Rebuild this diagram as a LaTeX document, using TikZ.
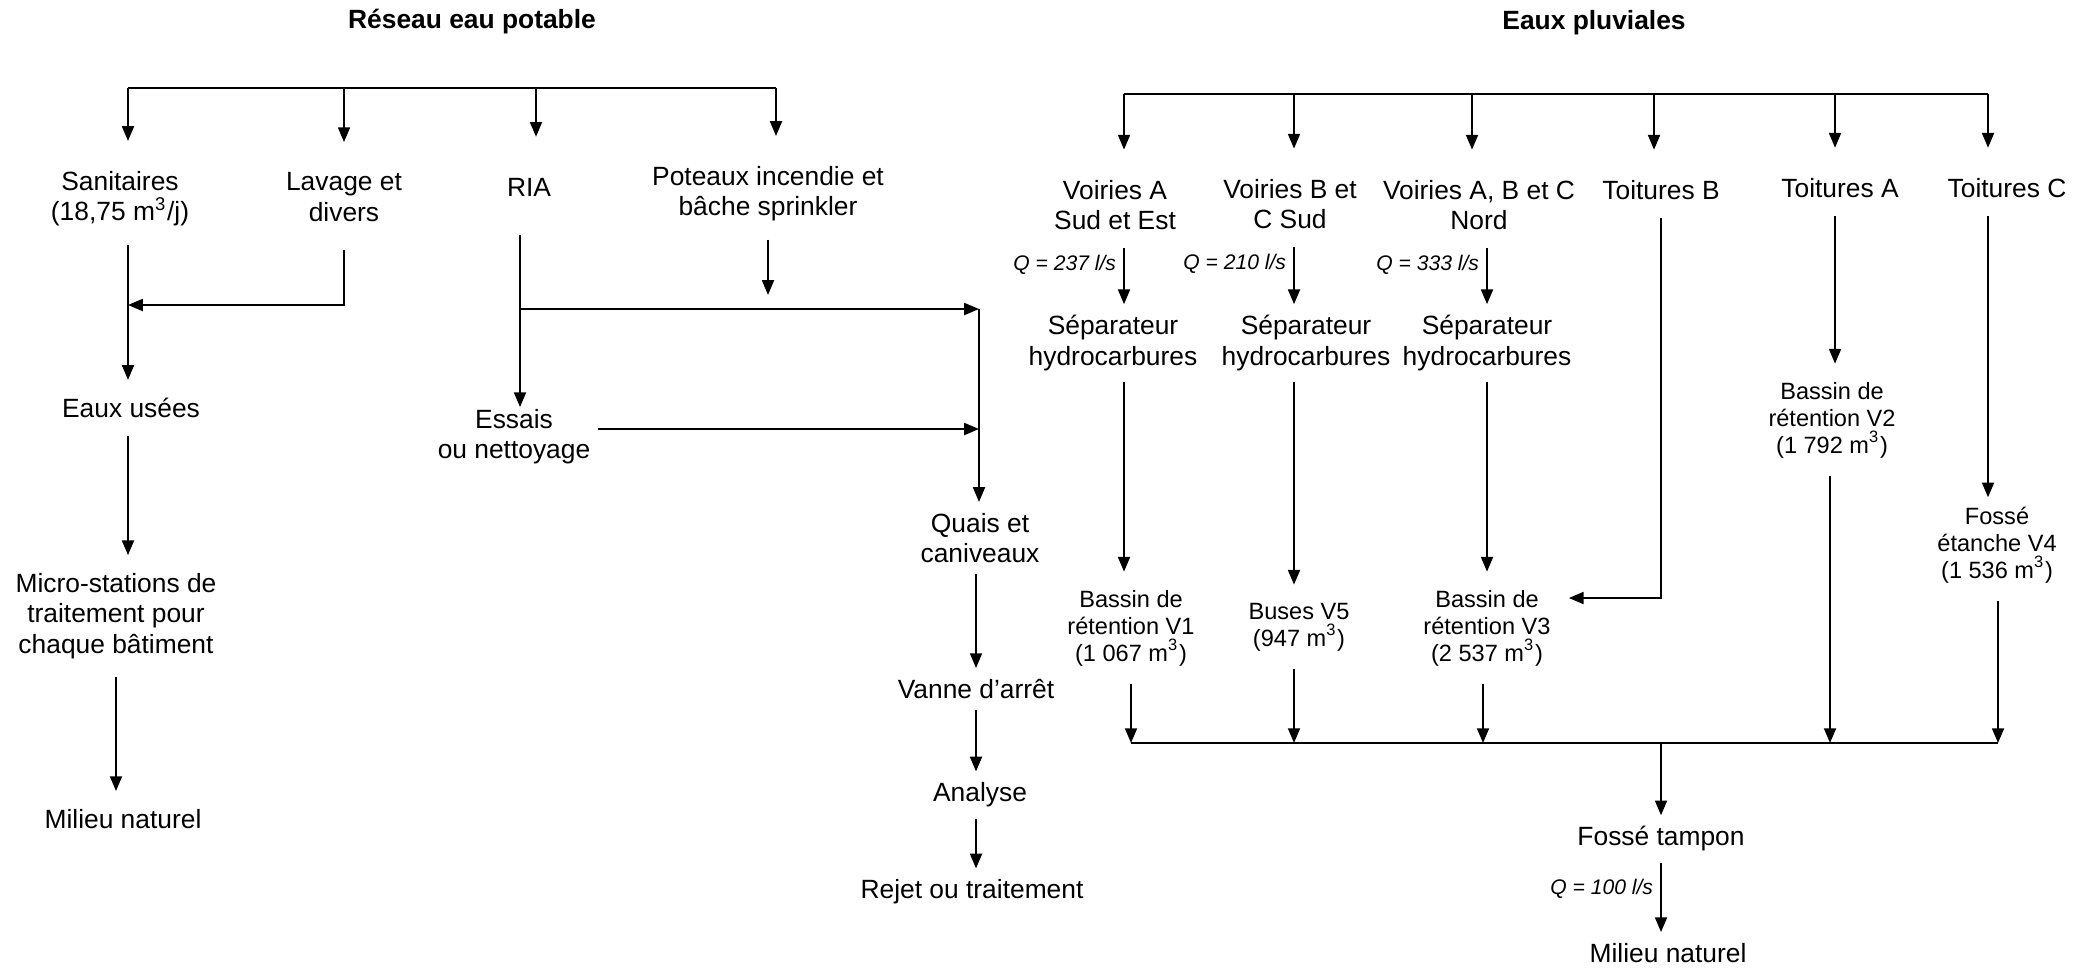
\documentclass[tikz,border=0pt]{standalone}
\usepackage{fontspec}
\setmainfont{Liberation Sans}
\definecolor{flowBlack}{HTML}{000000}
\usetikzlibrary{arrows.meta, positioning}
\tikzset{
    flow node/.style={align=center, inner sep=5pt, text=flowBlack, font=\fontsize{7.5}{8.6}\selectfont},
    tight node/.style={flow node, inner sep=3pt},
    small node/.style={align=center, inner sep=5pt, text=flowBlack, font=\fontsize{6.7}{7.7}\selectfont},
    title node/.style={inner sep=2pt, text=flowBlack, font=\fontsize{7.5}{8.6}\selectfont\bfseries},
    q label/.style={inner sep=2pt, text=flowBlack, font=\fontsize{6}{7}\selectfont\itshape},
    line style/.style={line width=0.55pt, flowBlack},
    arrow style/.style={-{Triangle[length=4.2pt, width=3.4pt]}, line width=0.55pt, flowBlack},
    branch arrow/.style={arrow style, shorten >=3.5pt},
}

\begin{document}
\begin{tikzpicture}[x=0.01cm, y=-0.01cm]
    \useasboundingbox (0,0) rectangle (2089,969);

    % Titles
    \node[title node] (titleDrink) at (472,22) {Réseau eau potable};
    \node[title node] (titleRain) at (1594,23) {Eaux pluviales};

    % Drinking water nodes
    \node[flow node] (sanitaires) at (120,199) {Sanitaires\\(18,75 m\textsuperscript{3}/j)};
    \node[flow node] (lavage) at (344,197) {Lavage et\\divers};
    \node[flow node] (ria) at (529,187) {RIA};
    \node[flow node] (poteaux) at (768,194) {Poteaux incendie et\\bâche sprinkler};
    \node[flow node] (usees) at (131,408) {Eaux usées};
    \node[flow node] (essais) at (514,437) {Essais\\ou nettoyage};
    \node[flow node] (micro) at (116,616) {Micro-stations de\\traitement pour\\chaque bâtiment};
    \node[flow node] (milieuDrink) at (123,819) {Milieu naturel};
    \node[tight node] (quais) at (980,538) {Quais et\\caniveaux};
    \node[tight node] (vanne) at (976,689) {Vanne d’arrêt};
    \node[tight node] (analyse) at (980,795) {Analyse};
    \node[tight node] (rejet) at (972,892) {Rejet ou traitement};

    % Rain water nodes
    \node[flow node] (voirA) at (1115,205) {Voiries A\\Sud et Est};
    \node[flow node] (voirB) at (1290,204) {Voiries B et\\C Sud};
    \node[flow node] (voirC) at (1479,205) {Voiries A, B et C\\Nord};
    \node[flow node] (toitB) at (1661,190) {Toitures B};
    \node[flow node] (toitA) at (1840,188) {Toitures A};
    \node[flow node] (toitC) at (2007,188) {Toitures C};
    \node[tight node] (sepA) at (1113,343) {Séparateur\\hydrocarbures};
    \node[tight node] (sepB) at (1306,343) {Séparateur\\hydrocarbures};
    \node[tight node] (sepC) at (1487,343) {Séparateur\\hydrocarbures};
    \node[small node] (bassinV1) at (1131,628) {Bassin de\\rétention V1\\(1~067 m\textsuperscript{3})};
    \node[small node] (busesV5) at (1299,627) {Buses V5\\(947 m\textsuperscript{3})};
    \node[small node] (bassinV3) at (1487,628) {Bassin de\\rétention V3\\(2~537 m\textsuperscript{3})};
    \node[small node] (bassinV2) at (1832,420) {Bassin de\\rétention V2\\(1~792 m\textsuperscript{3})};
    \node[small node] (fosseV4) at (1997,545) {Fossé\\étanche V4\\(1~536 m\textsuperscript{3})};
    \node[tight node] (fosseTampon) at (1661,839) {Fossé tampon};
    \node[tight node] (milieuRain) at (1668,953) {Milieu naturel};

    % Junction points
    \coordinate (barL1) at (128,88);
    \coordinate (barL2) at (344,88);
    \coordinate (barL3) at (536,88);
    \coordinate (barL4) at (776,88);
    \coordinate (joinSani) at (128,305);
    \coordinate (joinRia) at (520,309);
    \coordinate (joinQuais) at (979,309);
    \coordinate (joinEssais) at (979,429);
    \coordinate (barRA) at (1124,94);
    \coordinate (barRB) at (1294,94);
    \coordinate (barRC) at (1472,94);
    \coordinate (barRD) at (1654,94);
    \coordinate (barRE) at (1835,94);
    \coordinate (barRF) at (1988,94);
    \coordinate (sumA) at (1131,743);
    \coordinate (sumB) at (1294,743);
    \coordinate (sumC) at (1483,743);
    \coordinate (sumE) at (1830,743);
    \coordinate (sumF) at (1998,743);
    \coordinate (sumMid) at (1661,743);
    \coordinate (joinToitB) at (1661,598);

    % Drinking water arrows
    \draw[line style] (barL1) -- (barL4);
    \draw[branch arrow] (barL1) -- (barL1 |- sanitaires.north);
    \draw[branch arrow] (barL2) -- (barL2 |- lavage.north);
    \draw[branch arrow, shorten >=6.5pt] (barL3) -- (barL3 |- ria.north);
    \draw[branch arrow] (barL4) -- (barL4 |- poteaux.north);
    \draw[arrow style, shorten <=3pt] (lavage.south) |- (joinSani);
    \draw[arrow style] (sanitaires.south -| joinSani) -- (usees.north -| joinSani);
    \draw[arrow style] (usees.south -| joinSani) -- (micro.north -| joinSani);
    \draw[arrow style] (micro.south) -- (micro.south |- milieuDrink.north);
    \draw[arrow style, shorten <=6pt, shorten >=-4.5pt] (ria.south -| joinRia) -- (essais.north -| joinRia);
    \draw[arrow style, shorten >=4pt] (poteaux.south) -- (poteaux.south |- joinRia);
    \draw[arrow style] (joinRia) -- (joinQuais);
    \draw[arrow style, shorten <=-3pt] (essais.east |- joinEssais) -- (joinEssais);
    \draw[arrow style] (joinQuais) -- (quais.north -| joinQuais);
    \draw[arrow style] (quais.south -| vanne) -- (vanne.north);
    \draw[arrow style] (vanne.south) -- (analyse.north -| vanne.south);
    \draw[arrow style] (analyse.south -| vanne) -- (rejet.north -| vanne);

    % Rain water arrows
    \draw[line style] (barRA) -- (barRF);
    \draw[branch arrow] (barRA) -- (barRA |- voirA.north);
    \draw[branch arrow] (barRB) -- (barRB |- voirB.north);
    \draw[branch arrow] (barRC) -- (barRC |- voirC.north);
    \draw[branch arrow] (barRD) -- (barRD |- toitB.north);
    \draw[branch arrow] (barRE) -- (barRE |- toitA.north);
    \draw[branch arrow] (barRF) -- (barRF |- toitC.north);
    \draw[arrow style] (voirA.south -| barRA) -- node[q label, left, pos=0.3] (qA) {Q = 237 l/s} (sepA.north -| barRA);
    \draw[arrow style] (voirB.south -| barRB) -- node[q label, left, pos=0.3] (qB) {Q = 210 l/s} (sepB.north -| barRB);
    \draw[arrow style] (voirC.south -| sepC) -- node[q label, left, pos=0.3] (qC) {Q = 333 l/s} (sepC.north);
    \draw[arrow style] (sepA.south -| barRA) -- (bassinV1.north -| barRA);
    \draw[arrow style] (sepB.south -| barRB) -- (busesV5.north -| barRB);
    \draw[arrow style] (sepC.south) -- (bassinV3.north -| sepC.south);
    \draw[arrow style] (toitB.south) -- (joinToitB) -- (bassinV3.east |- joinToitB);
    \draw[arrow style] (toitA.south -| barRE) -- (bassinV2.north -| barRE);
    \draw[arrow style, shorten >=-2.5pt] (toitC.south -| barRF) -- (fosseV4.north -| barRF);
    \draw[arrow style] (bassinV1.south -| sumA) -- (sumA);
    \draw[arrow style] (busesV5.south -| sumB) -- (sumB);
    \draw[arrow style] (bassinV3.south -| sumC) -- (sumC);
    \draw[arrow style] (bassinV2.south -| sumE) -- (sumE);
    \draw[arrow style] (fosseV4.south -| sumF) -- (sumF);
    \draw[line style] (sumA) -- (sumF);
    \draw[arrow style] (sumMid) -- (fosseTampon.north -| sumMid);
    \draw[arrow style] (fosseTampon.south) -- node[q label, left, pos=0.38] (qOut) {Q = 100 l/s} (milieuRain.north -| fosseTampon.south);
\end{tikzpicture}
\end{document}
